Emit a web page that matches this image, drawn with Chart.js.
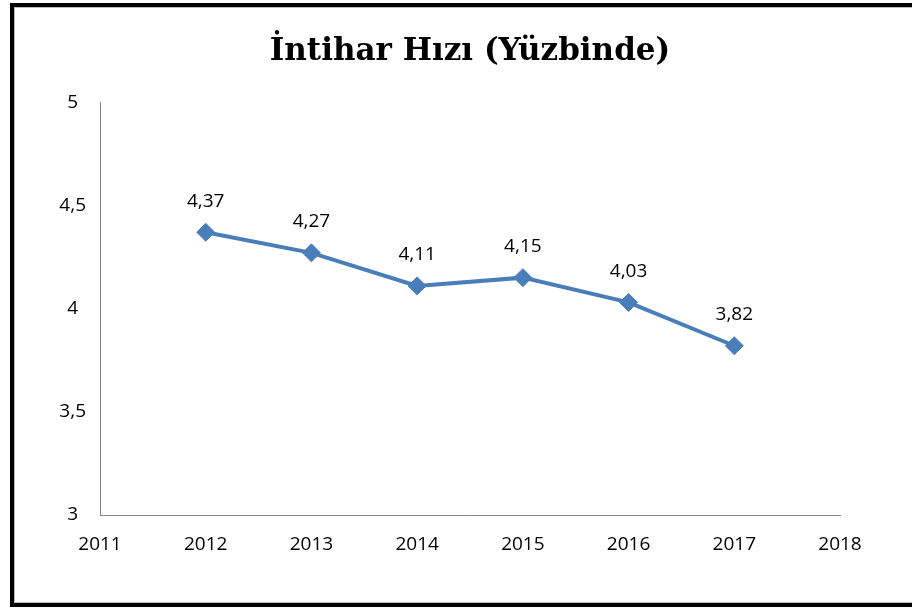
<!DOCTYPE html>
<html>
<head>
<meta charset="utf-8">
<script src="https://cdn.jsdelivr.net/npm/chart.js@4"></script>
<style>
  html, body { margin: 0; padding: 0; background: #fff; overflow: hidden; }
  #frame {
    position: absolute; left: 10px; top: 3px;
    width: 912px; height: 596px;
    border: 4px solid #000;
    box-shadow: inset 1px 1px 0 #bdbdbd, inset 0 -1px 0 #bdbdbd;
  }
  #wrap { position: absolute; left: 0; top: 0; width: 912px; height: 610px; }
</style>
</head>
<body>
<div id="frame"></div>
<div id="wrap"><canvas id="rateChart" width="912" height="610"></canvas></div>
<script>
// suicide rate per 100k
const years = [2012, 2013, 2014, 2015, 2016, 2017];
const rates = [4.37, 4.27, 4.11, 4.15, 4.03, 3.82];
const xTicks = [2011, 2012, 2013, 2014, 2015, 2016, 2017, 2018];
const yTicks = [3, 3.5, 4, 4.5, 5];

const tickFont = { family: "'Open Sans', sans-serif", size: 19 };

function trComma(v) {
    return String(v).replace('.', ',');
}

// labels above each point
const pointLabels = {
    id: 'pointLabels',
    afterDatasetsDraw(chart) {
        const ctx = chart.ctx;
        const meta = chart.getDatasetMeta(0);
        ctx.save();
        ctx.font = "19px 'Open Sans', sans-serif";
        ctx.fillStyle = '#000';
        ctx.textAlign = 'center';
        ctx.textBaseline = 'middle';
        meta.data.forEach((pt, i) => {
            ctx.fillText(trComma(rates[i].toFixed(2)), pt.x, pt.y - 31);
        });
        ctx.restore();
    }
};

document.addEventListener("DOMContentLoaded", function () {
    const ctx = document.getElementById('rateChart').getContext('2d');
    new Chart(ctx, {
        type: 'line',
        data: {
            datasets: [{
                data: years.map((y, i) => ({ x: y, y: rates[i] })),
                borderColor: '#4A7EBB',
                backgroundColor: '#4A7EBB',
                borderWidth: 4,
                pointStyle: 'rectRot',
                pointRadius: 9,
                pointHoverRadius: 9,
                pointBorderWidth: 1,
                tension: 0
            }]
        },
        options: {
            responsive: false,
            animation: false,
            devicePixelRatio: 1,
            layout: { padding: { left: 14, right: 72, top: 7, bottom: 7 } },
            plugins: {
                legend: { display: false },
                tooltip: { enabled: false },
                title: {
                    display: true,
                    text: 'İntihar Hızı (Yüzbinde)',
                    fullSize: false,
                    color: '#000',
                    font: { family: "'DejaVu Serif', serif", size: 31, weight: 'bold' },
                    padding: { top: 26, bottom: 32 }
                }
            },
            scales: {
                x: {
                    type: 'linear',
                    min: xTicks[0],
                    max: xTicks[xTicks.length - 1],
                    afterBuildTicks: s => { s.ticks = xTicks.map(v => ({ value: v })); },
                    afterFit: s => { s.height = 88; },
                    grid: { display: false, drawTicks: false },
                    border: { color: '#868686', width: 1 },
                    ticks: {
                        font: tickFont, color: '#000', padding: 18,
                        maxRotation: 0, autoSkip: false,
                        callback: v => String(v)
                    }
                },
                y: {
                    min: yTicks[0],
                    max: yTicks[yTicks.length - 1],
                    afterBuildTicks: s => { s.ticks = yTicks.map(v => ({ value: v })); },
                    afterFit: s => { s.width = 86; },
                    grid: { display: false, drawTicks: false },
                    border: { color: '#868686', width: 1 },
                    ticks: {
                        font: tickFont, color: '#000', padding: 14,
                        crossAlign: 'center',
                        callback: v => trComma(v)
                    }
                }
            }
        },
        plugins: [pointLabels]
    });
});
</script>
</body>
</html>
